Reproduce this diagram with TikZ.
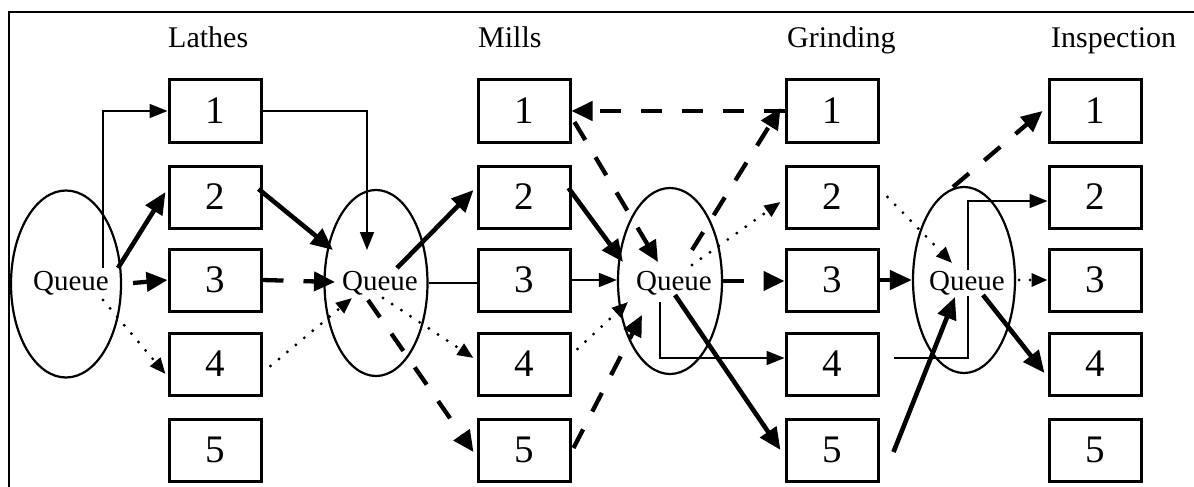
\documentclass[tikz,border=0pt]{standalone}
\usepackage{fontspec}
\setmainfont{Liberation Serif}
\usetikzlibrary{arrows.meta,shapes.geometric,calc,backgrounds}
\begin{document}
\begin{tikzpicture}[x=1pt,y=-1pt,
 box/.style={draw,line width=3pt,minimum width=92pt,minimum height=62pt,inner sep=0pt,font=\fontsize{39}{42}\selectfont},
 qell/.style={draw,ellipse,line width=2.2pt,inner sep=0pt},
 qtxt/.style={anchor=base,fill=white,inner sep=1pt,font=\fontsize{29}{32}\selectfont},
 lbl/.style={anchor=base west,inner sep=0pt,font=\fontsize{30}{34}\selectfont},
 thn/.style={line width=1.7pt,-{Triangle[length=18pt,width=14pt]}},
 thk/.style={line width=4.6pt,-{Triangle[length=22pt,width=19pt]}},
 dsh/.style={line width=4.3pt,dash pattern=on 21pt off 20pt,-{Triangle[length=21pt,width=19pt]}},
 dtd/.style={line width=3.2pt,line cap=round,dash pattern=on 0pt off 11pt,-{Triangle[length=16pt,width=13pt]}},
]
\useasboundingbox (0,0) rectangle (1194,487);
\draw[line width=2pt] (1194,12) -- (9,12) -- (9,487);

% column labels
\node[lbl] (hL) at (168,48) {Lathes};
\node[lbl] (hM) at (478,48) {Mills};
\node[lbl] (hG) at (787,48) {Grinding};
\node[lbl] (hI) at (1051,48) {Inspection};

% boxes
\foreach \i/\y in {1/111,2/197,3/280,4/364,5/450}{
  \node[box] (L\i) at (215,\y) {\i};
  \node[box] (M\i) at (524,\y) {\i};
  \node[box] (G\i) at (832,\y) {\i};
  \node[box] (I\i) at (1095,\y) {\i};
}

% queues
\node[qell,minimum width=110pt,minimum height=187pt] (q1) at (66,284) {};
\node[qell,minimum width=103pt,minimum height=186pt] (q2) at (376,283) {};
\node[qell,minimum width=104pt,minimum height=186pt] (q3) at (670,281) {};
\node[qell,minimum width=102pt,minimum height=186pt] (q4) at (964,280) {};
\node[qtxt] (q1t) at (71,290) {Queue};
\node[qtxt] (q2t) at (380,290) {Queue};
\node[qtxt] (q3t) at (674,290) {Queue};
\node[qtxt] (q4t) at (967,290) {Queue};

% queue 1 -> lathes
\draw[thn] ($(q1)+(37,-16)$) |- (L1.west);
\draw[thk] ($(q1)+(52,-16)$) -- ($(L2.west)+(-2,-5)$);
\draw[dsh] ($(q1)+(67,-1)$) -- (L3.west);
\draw[dtd] ($(q1)+(37,16)$) -- ($(L4.west)+(-2,10)$);

% lathes -> queue 2
\draw[thn] (L1.east) -| ($(q2)+(-9,-33)$);
\draw[thk] ($(L2.east)+(-4,-8)$) -- ($(q2)+(-43,-33)$);
\draw[dsh] (L3.east) -- ($(q2)+(-41,-1)$);
\draw[dtd] ($(L4.east)+(8,2)$) -- ($(q2)+(-24,15)$);

% queue 2 -> mills
\draw[thk] ($(q2)+(21,-15)$) -- ($(M2.west)+(-3,-7)$);
\draw[line width=1.7pt] (q2.east) -- (q2.east -| M3.west);
\draw[dtd] ($(q2)+(7,15)$) -- ($(M4.west)+(-3,-6)$);
\draw[dsh] ($(q2)+(-8,17)$) -- ($(M5.west)+(-3,2)$);

% mills -> queue 3
\draw[thk] ($(M2.east)+(-3,-9)$) -- ($(q3)+(-47,-19)$);
\draw[dsh] ($(M1.east)+(3,11)$) -- ($(q3)+(-12,-19)$);
\draw[thn] (M3.east) -- (M3.east -| q3.west);
\draw[dtd] ($(M4.east)+(6,-15)$) -- ($(q3)+(-42,21)$);
\draw[dsh] ($(M5.east)+(2,-2)$) -- ($(q3)+(-28,34)$);

% rework loop
\draw[dsh] (G1.west) -- (M1.east);
\draw[dsh] ($(q3)+(22,-31)$) -- ($(G1.west)+(-4,-3)$);

% queue 3 -> grinding
\draw[dtd] ($(q3)+(22,-16)$) -- ($(G2.west)+(-4,5)$);
\draw[dsh] (q3.east) -- (q3.east -| G3.west);
\draw[thn] ($(q3)+(-10,21)$) |- ($(G4.west)+(0,-6)$);
\draw[thk] ($(q3)+(5,14)$) -- ($(G5.west)+(-4,0)$);

% grinding -> queue 4
\draw[dtd] ($(G2.east)+(8,0)$) -- ($(q4)+(-12,-17)$);
\draw[thk] (G3.east) -- (G3.east -| q4.west);
\begin{pgfonlayer}{background}
\draw[thn] ($(G4.east)+(14,-6)$) -| ($(q4)+(4,0)$) |- ($(I2.west)+(0,4)$);
\end{pgfonlayer}
\draw[thk] ($(G5.east)+(14,2)$) -- ($(q4)+(-9,17)$);

% queue 4 -> inspection
\draw[dsh] ($(q4)+(-11,-93)$) -- ($(I1.west)+(-5,0)$);
\draw[dtd] ($(q4.east)+(3,0)$) -- (I3.west);
\draw[thk] ($(q4)+(19,15)$) -- ($(I4.west)+(-3,9)$);
\end{tikzpicture}
\end{document}
